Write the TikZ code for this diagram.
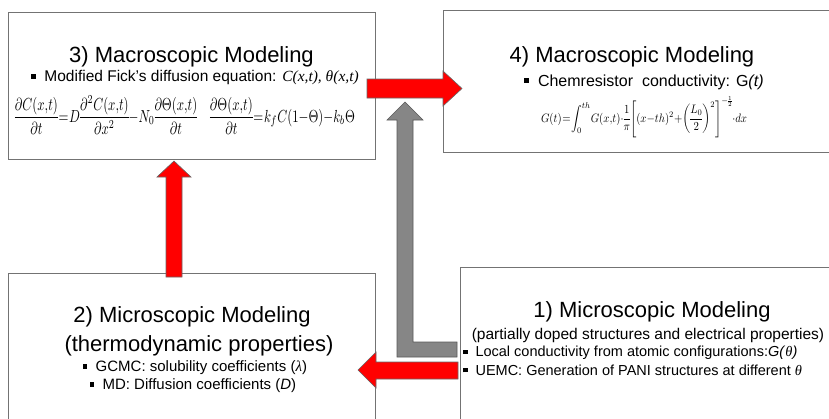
\documentclass[tikz,border=0pt]{standalone}
\usepackage{amsmath}
\usepackage[no-math]{fontspec}
\setmainfont{Liberation Sans}
\newfontfamily\tms{Liberation Serif}
\usetikzlibrary{positioning, calc}
\newcommand{\sqbullet}{\rule[0.2em]{0.3em}{0.3em}\hspace{0.55em}}
\newcommand{\tit}[1]{{\tms\itshape #1}}
\newcommand{\tight}{\medmuskip=0mu\thickmuskip=1mu\thinmuskip=0mu\nulldelimiterspace=0pt}

\begin{document}
\begin{tikzpicture}[x=1pt, y=-1pt,
    box/.style={draw=gray!90!black, line width=0.8pt, fill=white, inner sep=0pt, outer sep=0pt},
    title/.style={font=\fontsize{22}{26}\selectfont, inner sep=0pt},
    sub/.style={font=\fontsize{16}{19}\selectfont, inner sep=0pt},
    item/.style={font=\fontsize{15}{18}\selectfont, inner sep=0pt},
    redarrow/.style={fill=red, draw=gray!80!black, line width=0.6pt},
    grayarrow/.style={fill=gray!95, draw=gray!70!black, line width=0.6pt}]
    \useasboundingbox (0,0) rectangle (829,418);
    % Boxes
    \node[box, minimum width=367pt, minimum height=147pt] (m3) at (191.5,85.5) {};
    \node[box, minimum width=397pt, minimum height=142pt] (m4) at (641.5,81) {};
    \node[box, minimum width=367pt, minimum height=157pt] (m2) at (191.5,351.5) {};
    \node[box, minimum width=380pt, minimum height=163pt] (m1) at (650,348.5) {};
    % Arrow 3 -> 4
    \draw[redarrow] (367,79) -- (443,79) -- (443,71) -- (462,88.5) -- (443,106) -- (443,98) -- (367,98) -- cycle;
    % Arrow 1 -> junction
    \draw[grayarrow] (457,342) -- (413,342) -- (413,120) -- (423,120) -- (405,102) -- (387,120) -- (397,120) -- (397,357) -- (457,357) -- cycle;
    % Arrow 1 -> 2
    \draw[redarrow] (458,362) -- (376,362) -- (376,352) -- (358,370) -- (376,388) -- (376,379) -- (458,379) -- cycle;
    % Arrow 2 -> 3
    \draw[redarrow] (166,277) -- (166,177) -- (157,177) -- (174,161) -- (191,177) -- (182,177) -- (182,277) -- cycle;
    % Box 3 text
    \node[title] (t3) at (191.5,57) {3) Macroscopic Modeling};
    \node[sub, font=\fontsize{15.5}{18}\selectfont] (s3) at (195,78) {\sqbullet Modified Fick's diffusion equation: \tit{C(x,t), θ(x,t)}};
    \node[inner sep=0pt] (e3) at (185,115)
      {\resizebox*{340pt}{38pt}{\tight$\dfrac{\partial C(x,t)}{\partial t}=D\dfrac{\partial^2 C(x,t)}{\partial x^2}-N_0\dfrac{\partial\Theta(x,t)}{\partial t}\quad
        \dfrac{\partial\Theta(x,t)}{\partial t}=k_f C(1-\Theta)-k_b\Theta$}};
    % Box 4 text
    \node[title] (t4) at (632,57) {4) Macroscopic Modeling};
    \node[sub] (s4) at (644,82) {\sqbullet Chemresistor\ \ conductivity: G\textit{(t)}};
    \node[inner sep=0pt] (e4) at (644,117)
      {\resizebox*{206pt}{41pt}{\tight$G(t)=\displaystyle\int_0^{th}G(x,t)\cdot\frac{1}{\pi}\left[(x-th)^2+\left(\frac{L_0}{2}\right)^2\right]^{-\frac{1}{2}}\cdot dx$}};
    % Box 2 text
    \node[title] (t2) at (192,317) {2) Microscopic Modeling};
    \node[title] (u2) at (199,346) {(thermodynamic properties)};
    \node[item] (a2) at (195,368) {\sqbullet GCMC: solubility coefficients (\tit{λ})};
    \node[item] (b2) at (193,386) {\sqbullet MD: Diffusion coefficients (\textit{D})};
    % Box 1 text
    \node[title] (t1) at (652,312) {1) Microscopic Modeling};
    \node[sub, font=\fontsize{15.5}{18}\selectfont] (u1) at (648,335) {(partially doped structures and electrical properties)};
    \node[item, anchor=west, font=\fontsize{14.5}{17}\selectfont] (a1) at (463,353) {\sqbullet Local conductivity from atomic configurations:\textit{G(}\tit{θ}\textit{)}};
    \node[item, anchor=west, font=\fontsize{14.5}{17}\selectfont] (b1) at (463,370) {\sqbullet UEMC: Generation of PANI structures at different \tit{θ}};
\end{tikzpicture}
\end{document}
